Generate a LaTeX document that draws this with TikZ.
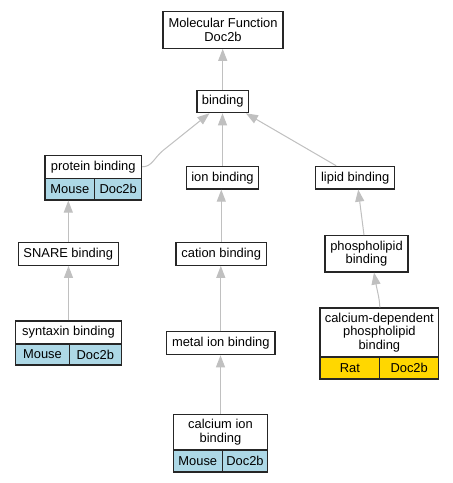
\documentclass[tikz,border=0pt]{standalone}
\usepackage{fontspec}
\setmainfont{Liberation Sans}
\usetikzlibrary{arrows.meta,calc}
\tikzset{
  box/.style={draw=black!85, line width=1.2pt, inner sep=0pt, align=center, font=\fontsize{12.9}{13.4}\selectfont},
  mouse/.style={box, fill=blue!8!cyan!25!white, fill={rgb,255:red,173;green,216;blue,230}},
  rat/.style={box, fill={rgb,255:red,255;green,215;blue,0}},
  edge/.style={draw={rgb,255:red,192;green,192;blue,192}, line width=1pt, -{Triangle[length=12pt,width=9pt]}},
}
\begin{document}
\begin{tikzpicture}[x=1pt,y=-1pt]
\useasboundingbox (0,0) rectangle (453,483);
\fill[white] (0,0) rectangle (453,483);
% nodes
\node[box, minimum width=120pt, minimum height=36.6pt] (mf) at (223,30) {Molecular Function\\Doc2b};
\node[box, minimum width=51.3pt, minimum height=22.4pt] (binding) at (222.7,101.5) {binding};
\node[box, minimum width=96.7pt, minimum height=23pt] (protein) at (93.3,166.8) {protein binding};
\node[mouse, minimum width=49.7pt, minimum height=21.7pt] (protein-a) at (69.85,189.15) {Mouse};
\node[mouse, minimum width=47pt, minimum height=21.7pt] (protein-b) at (118.2,189.15) {Doc2b};
\node[box, minimum width=72.4pt, minimum height=22.7pt] (ion) at (222.5,177.7) {ion binding};
\node[box, minimum width=79pt, minimum height=22.7pt] (lipid) at (355.2,177.7) {lipid binding};
\node[box, minimum width=100pt, minimum height=23pt] (snare) at (68.3,253.8) {SNARE binding};
\node[box, minimum width=90.7pt, minimum height=23pt] (cation) at (221.3,253.8) {cation binding};
\node[box, minimum width=83pt, minimum height=36.3pt] (phospho) at (366.5,253.8) {phospholipid\\binding};
\node[box, minimum width=105.6pt, minimum height=23pt] (syntaxin) at (68.5,332.5) {syntaxin binding};
\node[mouse, minimum width=53.6pt, minimum height=21pt] (syntaxin-a) at (42.5,354.5) {Mouse};
\node[mouse, minimum width=52pt, minimum height=21pt] (syntaxin-b) at (95.3,354.5) {Doc2b};
\node[box, minimum width=108.3pt, minimum height=23pt] (metal) at (220.8,343.2) {metal ion binding};
\node[box, minimum width=118.7pt, minimum height=49pt] (cadep) at (379.35,332.5) {calcium-dependent\\phospholipid\\binding};
\node[rat, minimum width=59.7pt, minimum height=22pt] (cadep-a) at (349.85,368) {Rat};
\node[rat, minimum width=59pt, minimum height=22pt] (cadep-b) at (409.2,368) {Doc2b};
\node[box, minimum width=94.4pt, minimum height=35.7pt] (caion) at (220.5,432.2) {calcium ion\\binding};
\node[mouse, minimum width=49pt, minimum height=22pt] (caion-a) at (197.8,461) {Mouse};
\node[mouse, minimum width=45.4pt, minimum height=22pt] (caion-b) at (245,461) {Doc2b};
% edges
\draw[edge] (binding.north) -- (binding.north |- mf.south);
\draw[edge] (protein.east) .. controls (152,166.8) and (154,158) .. (163,150.5) -- ([xshift=13pt]binding.south west);
\draw[edge] (ion.north) -- (ion.north |- binding.south);
\draw[edge] ([xshift=-19pt]lipid.north) -- ([xshift=-3pt]binding.south east);
\draw[edge] (snare.north) -- (snare.north |- protein-a.south);
\draw[edge] (syntaxin.north) -- (syntaxin.north |- snare.south);
\draw[edge] (cation.north) -- (cation.north |- ion.south);
\draw[edge] (metal.north) -- (metal.north |- cation.south);
\draw[edge] (caion.north) -- (caion.north |- metal.south);
\draw[edge] ([xshift=-2.5pt]phospho.north) -- ([xshift=3pt]lipid.south);
\draw[edge] ([xshift=0.5pt]cadep.north) .. controls (379.5,298) and (377,290) .. ([xshift=7.5pt]phospho.south);
\end{tikzpicture}
\end{document}
